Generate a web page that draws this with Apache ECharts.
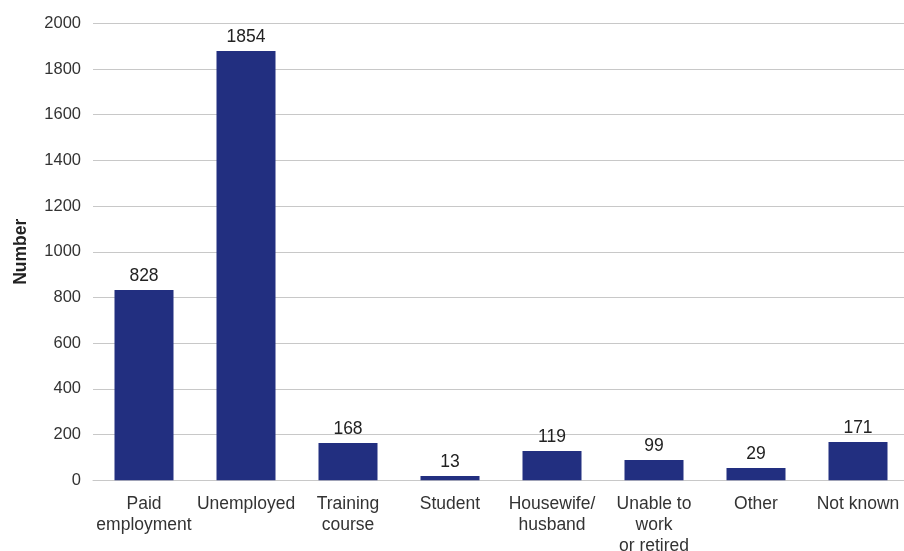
<!DOCTYPE html>
<html>
<head>
<meta charset="utf-8">
<script src="https://cdn.jsdelivr.net/npm/echarts@6/dist/echarts.min.js"></script>
<style>
  html, body { margin: 0; padding: 0; background: #fff; }
  #grafico { width: 904px; height: 551px; }
</style>
</head>
<body>
<div id="grafico"></div>
<script>
// Categorias (eixo x)
var categorias = ['Paid\nemployment', 'Unemployed', 'Training\ncourse', 'Student',
  'Housewife/\nhusband', 'Unable to\nwork\nor retired', 'Other', 'Not known'];

// Altura das barras
var alturas = [833, 1879, 163, 19, 128, 89, 54, 168];

// Rótulos impressos sobre as barras
var rotulos = [828, 1854, 168, 13, 119, 99, 29, 171];

// Marcas do eixo y
var yMin = 0, yMax = 2000, yPasso = 200;

var grafico = echarts.init(document.getElementById('grafico'));

var fonte = '"Liberation Sans", Arial, sans-serif';

var opcoes = {
  animation: false,
  grid: {
    left: 93,
    right: -5,
    top: 23.3,
    bottom: 70.7,
    containLabel: false,
    outerBoundsMode: 'none'
  },
  xAxis: {
    type: 'category',
    data: categorias,
    axisLine: { show: true, lineStyle: { color: '#c8c8c8', width: 1 } },
    axisTick: { show: false },
    axisLabel: {
      interval: 0,
      margin: 13,
      color: '#333',
      fontSize: 17.5,
      lineHeight: 21,
      fontFamily: fonte
    }
  },
  yAxis: {
    type: 'value',
    min: yMin,
    max: yMax,
    interval: yPasso,
    name: 'Number',
    nameLocation: 'middle',
    nameGap: 63,
    nameTextStyle: {
      color: '#222',
      fontSize: 17.5,
      fontWeight: 'bold',
      fontFamily: fonte
    },
    axisLine: { show: false },
    axisTick: { show: false },
    axisLabel: {
      margin: 12,
      color: '#333',
      fontSize: 16.5,
      fontFamily: fonte,
      formatter: function (v) { return String(v); }
    },
    splitLine: { lineStyle: { color: '#c8c8c8', width: 1 } }
  },
  series: [{
    type: 'bar',
    data: alturas,
    barWidth: 59,
    itemStyle: { color: '#222f80' },
    label: {
      show: true,
      position: 'top',
      distance: 5,
      color: '#222',
      fontSize: 17.5,
      fontFamily: fonte,
      formatter: function (p) { return rotulos[p.dataIndex]; }
    }
  }]
};

grafico.setOption(opcoes);
</script>
</body>
</html>
